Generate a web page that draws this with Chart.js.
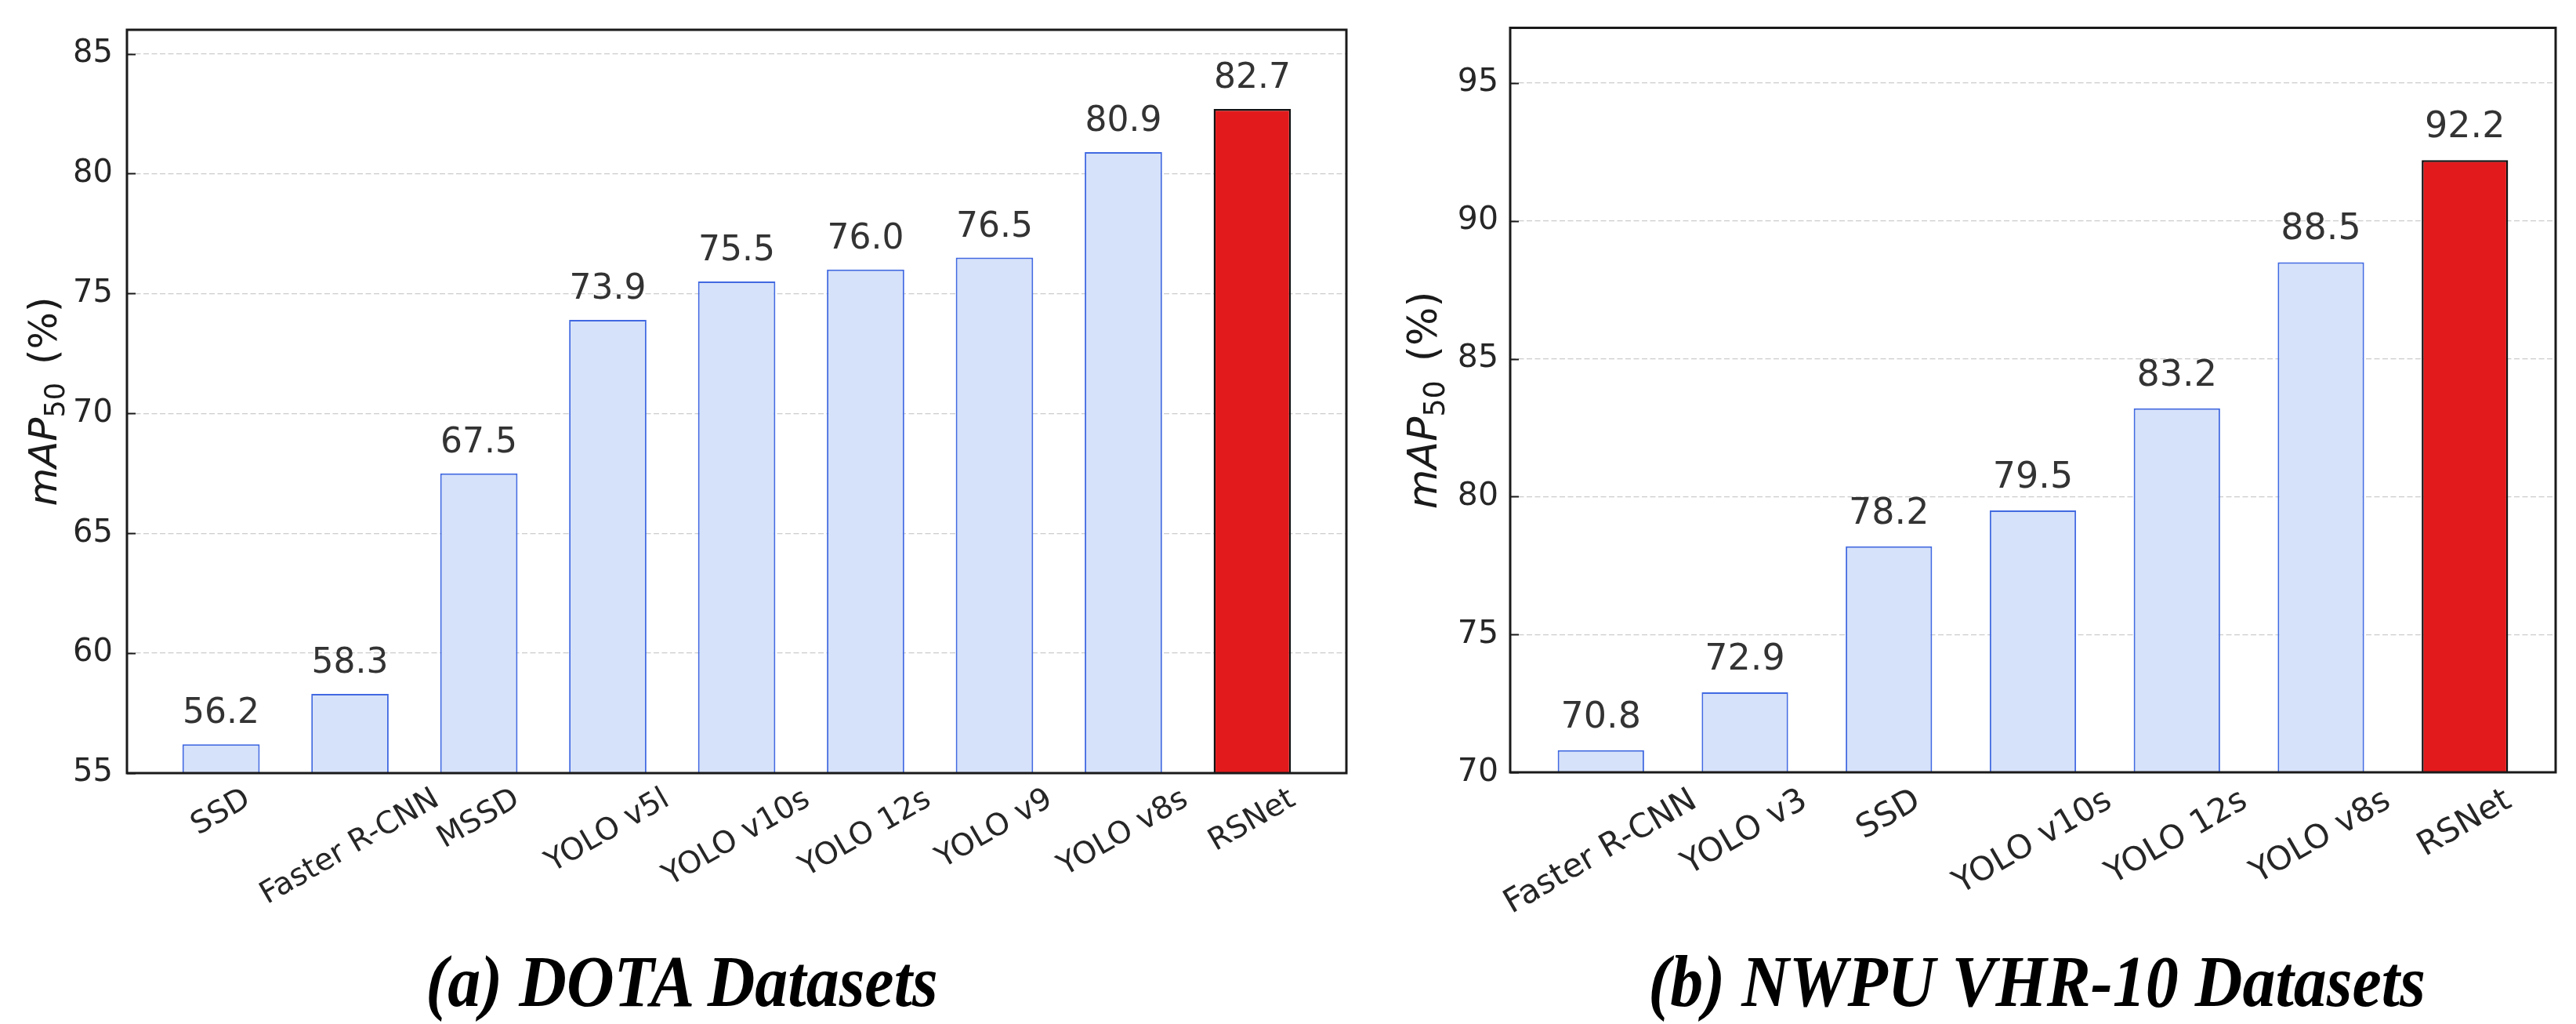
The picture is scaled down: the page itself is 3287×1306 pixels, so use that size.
<!DOCTYPE html>
<html>
<head>
<meta charset="utf-8">
<script src="https://cdn.jsdelivr.net/npm/chart.js@4.4.1/dist/chart.umd.min.js"></script>
<style>
body { margin: 0; background: #fff; width: 3287px; height: 1306px; position: relative; overflow: hidden; }
canvas { position: absolute; top: 0; }
#dotaChart { left: 0; }
#nwpuChart { left: 1760px; }
.caption {
    position: absolute; top: 1203px; line-height: 84px; white-space: nowrap;
    font: italic bold 84px "Liberation Serif", "Times New Roman", serif;
    transform: translateX(-50%) scaleY(1.12); transform-origin: 50% 50%; color: #000;
}
</style>
</head>
<body>
<canvas id="dotaChart" width="1760" height="1200"></canvas>
<canvas id="nwpuChart" width="1527" height="1200"></canvas>
<div class="caption" style="left:870px">(a) DOTA Datasets</div>
<div class="caption" style="left:2599px">(b) NWPU VHR-10 Datasets</div>
<script>
// --- data ---
const dotaModels = ['SSD', 'Faster R-CNN', 'MSSD', 'YOLO v5l', 'YOLO v10s', 'YOLO 12s', 'YOLO v9', 'YOLO v8s', 'RSNet'];
const dotaMap = [56.2, 58.3, 67.5, 73.9, 75.5, 76.0, 76.5, 80.9, 82.7];
const dotaTicks = [55, 60, 65, 70, 75, 80, 85];

const nwpuModels = ['Faster R-CNN', 'YOLO v3', 'SSD', 'YOLO v10s', 'YOLO 12s', 'YOLO v8s', 'RSNet'];
const nwpuMap = [70.8, 72.9, 78.2, 79.5, 83.2, 88.5, 92.2];
const nwpuTicks = [70, 75, 80, 85, 90, 95];

const highlight = 'RSNet';
const FONT = '"DejaVu Sans", "Noto Sans", sans-serif';

// value labels, box, inward ticks, rotated x labels, y label
const decorPlugin = {
    id: 'decor',
    afterDatasetsDraw(chart, args, opts) {
        const { ctx, chartArea: a, scales: { x, y } } = chart;
        const ds = chart.data.datasets[0];
        ctx.save();

        // numbers above bars
        ctx.font = `${opts.valueSize}px ${FONT}`;
        ctx.fillStyle = '#333';
        ctx.textAlign = 'center';
        ctx.textBaseline = 'alphabetic';
        chart.getDatasetMeta(0).data.forEach((bar, i) => {
            ctx.fillText(ds.data[i].y.toFixed(1), bar.x, bar.y - opts.valueGap);
        });

        // frame
        ctx.strokeStyle = '#1a1a1a';
        ctx.lineWidth = 3;
        ctx.strokeRect(a.left, a.top, a.width, a.height);

        // ticks pointing in
        ctx.lineWidth = 2;
        y.ticks.forEach(t => {
            const py = Math.round(y.getPixelForValue(t.value)) + 0.5;
            ctx.beginPath();
            ctx.moveTo(a.left, py);
            ctx.lineTo(a.left + 11, py);
            ctx.stroke();
        });

        // x labels, rotated 30deg and centred under bar
        const ang = Math.PI / 6;
        ctx.font = `${opts.xSize}px ${FONT}`;
        ctx.fillStyle = '#262626';
        ctx.textBaseline = 'middle';
        chart.data.labels.forEach((lab, i) => {
            const px = x.getPixelForValue(i);
            const w = ctx.measureText(lab).width;
            const H = w * Math.sin(ang) + opts.xSize * 1.17 * Math.cos(ang);
            ctx.save();
            ctx.translate(px, a.bottom + opts.xPad + H / 2);
            ctx.rotate(-ang);
            ctx.fillText(lab, 0, 0);
            ctx.restore();
        });

        // y label: mAP_50 (%)
        const fs = opts.ySize;
        const parts = [
            { t: 'mAP', font: `italic ${fs}px ${FONT}`, dy: 0, gap: 0 },
            { t: '50', font: `${fs * 0.7}px ${FONT}`, dy: fs * 0.2, gap: 0 },
            { t: '(%)', font: `${fs}px ${FONT}`, dy: 0, gap: fs * 0.46 }
        ];
        let total = 0;
        parts.forEach(p => { ctx.font = p.font; p.w = ctx.measureText(p.t).width; total += p.w + p.gap; });
        ctx.save();
        ctx.translate(opts.yLabelX, (a.top + a.bottom) / 2);
        ctx.rotate(-Math.PI / 2);
        ctx.fillStyle = '#1a1a1a';
        ctx.textAlign = 'left';
        ctx.textBaseline = 'alphabetic';
        let cx = -total / 2;
        parts.forEach(p => {
            cx += p.gap;
            ctx.font = p.font;
            ctx.fillText(p.t, cx, p.dy);
            cx += p.w;
        });
        ctx.restore();

        ctx.restore();
    }
};

function makeChart(id, models, values, ticks, cfg) {
    const n = models.length;
    const margin = 0.3 + 0.05 * (n - 1 + 0.6);
    return new Chart(document.getElementById(id), {
        type: 'bar',
        data: {
            labels: models,
            datasets: [{
                data: values.map((v, i) => ({ x: i, y: v })),
                backgroundColor: models.map(m => m === highlight ? '#e31a1c' : '#d6e2fa'),
                borderColor: models.map(m => m === highlight ? '#111111' : '#4169e1'),
                borderWidth: models.map(m => m === highlight ? 2.5 : 2),
                borderSkipped: false,
                barPercentage: 0.6,
                categoryPercentage: 1
            }]
        },
        options: {
            responsive: false,
            animation: false,
            devicePixelRatio: 1,
            layout: { padding: { left: 0, top: cfg.top, right: cfg.right, bottom: 0 } },
            plugins: {
                legend: { display: false },
                tooltip: { enabled: false },
                decor: cfg.decor
            },
            scales: {
                x: {
                    type: 'linear',
                    min: -margin,
                    max: n - 1 + margin,
                    offset: false,
                    afterBuildTicks: s => { s.ticks = models.map((m, i) => ({ value: i })); },
                    grid: { display: false },
                    border: { display: false },
                    ticks: { display: false },
                    afterFit: s => { s.height = cfg.xHeight; }
                },
                y: {
                    min: cfg.min,
                    max: cfg.max,
                    afterBuildTicks: s => { s.ticks = ticks.map(v => ({ value: v })); },
                    afterFit: s => { s.width = cfg.yWidth; },
                    grid: { color: '#cccccc', lineWidth: 1.3, drawTicks: false },
                    border: { display: false, dash: [7, 3.5] },
                    ticks: {
                        padding: cfg.tickPad,
                        color: '#262626',
                        font: { family: FONT, size: cfg.tickSize, lineHeight: 1 }
                    }
                }
            }
        },
        plugins: [decorPlugin]
    });
}

makeChart('dotaChart', dotaModels, dotaMap, dotaTicks, {
    min: 55, max: 86, top: 23, right: 42, xHeight: 214, yWidth: 162,
    tickPad: 18, tickSize: 40,
    decor: { valueSize: 44, valueGap: 27, xSize: 39, xPad: 11, ySize: 50, yLabelX: 72 }
});

makeChart('nwpuChart', nwpuModels, nwpuMap, nwpuTicks, {
    min: 70, max: 97, top: 22, right: 26, xHeight: 215, yWidth: 167,
    tickPad: 15, tickSize: 41,
    decor: { valueSize: 46, valueGap: 29, xSize: 42, xPad: 12, ySize: 52, yLabelX: 73 }
});
</script>
</body>
</html>
